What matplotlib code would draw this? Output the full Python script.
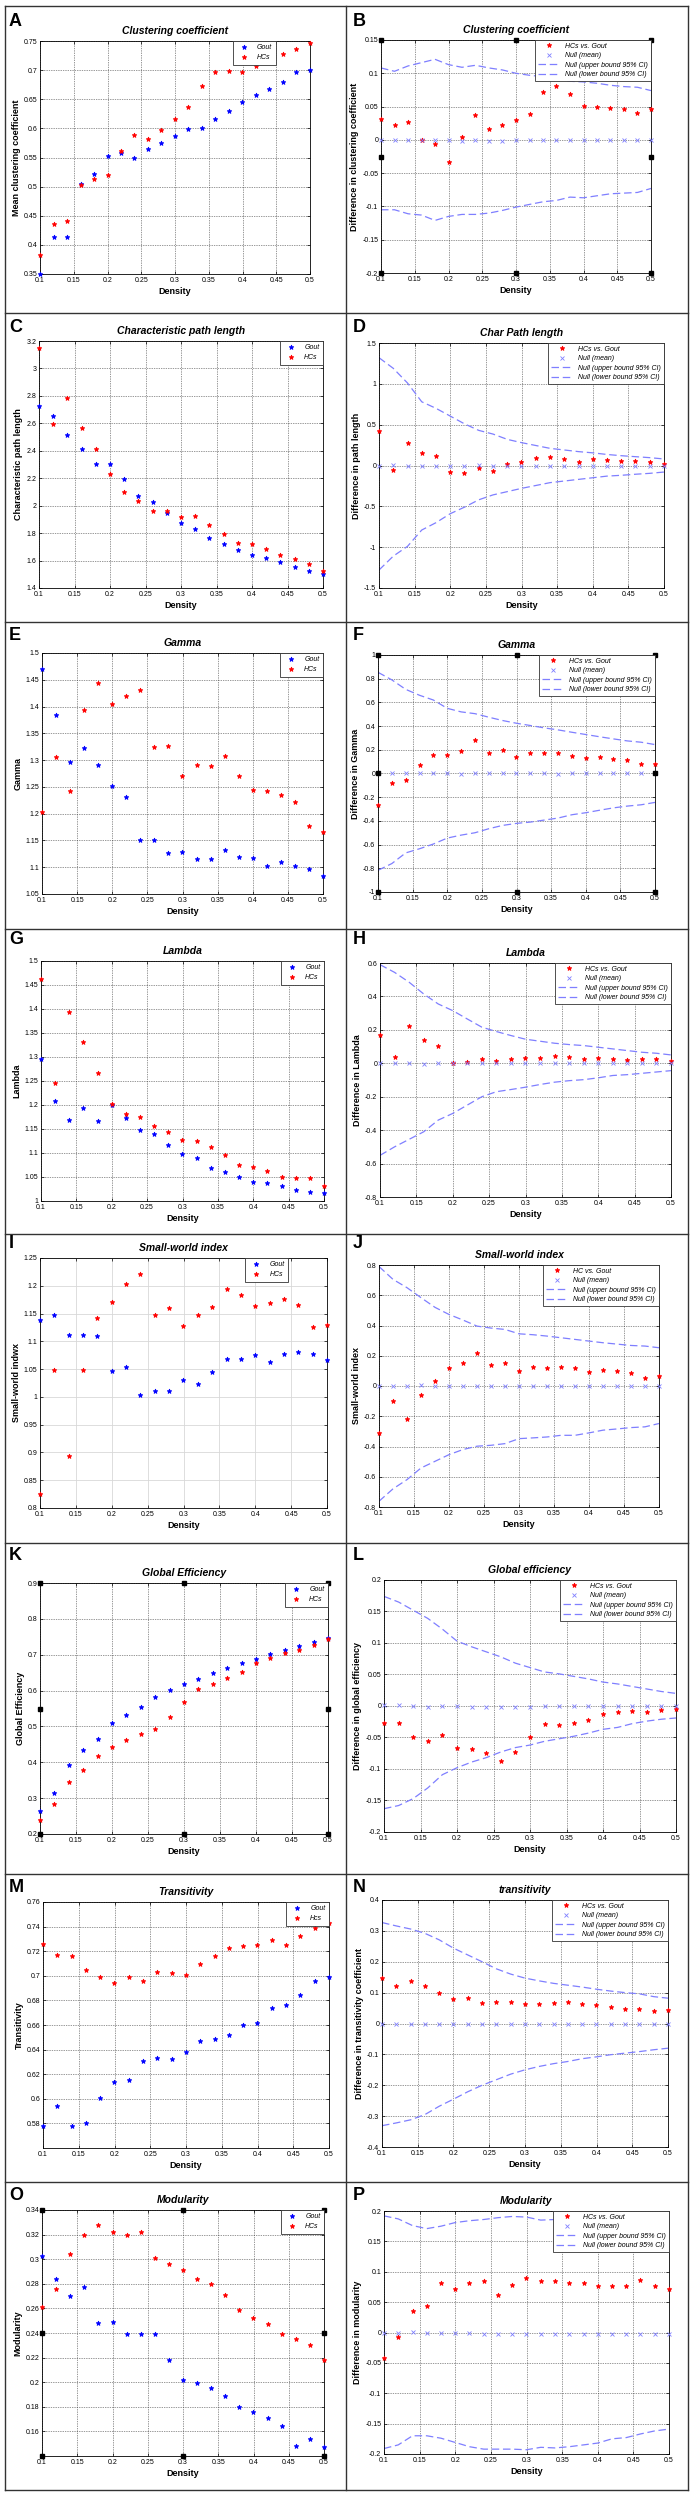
import matplotlib.pyplot as plt
from matplotlib.lines import Line2D
from matplotlib.ticker import FuncFormatter
import numpy as np

plt.rcParams['font.family'] = ['Liberation Sans', 'DejaVu Sans']

density = [0.10, 0.12, 0.14, 0.16, 0.18, 0.20, 0.22, 0.24, 0.26, 0.28, 0.30,
           0.32, 0.34, 0.36, 0.38, 0.40, 0.42, 0.44, 0.46, 0.48, 0.50]

# A / B  clustering coefficient
cc_gout = [0.350, 0.413, 0.414, 0.505, 0.521, 0.552, 0.557, 0.549, 0.565, 0.575, 0.587,
           0.599, 0.601, 0.616, 0.629, 0.646, 0.657, 0.667, 0.680, 0.696, 0.701]
cc_hcs = [0.382, 0.435, 0.441, 0.503, 0.513, 0.520, 0.561, 0.588, 0.581, 0.597, 0.616,
          0.637, 0.673, 0.697, 0.699, 0.697, 0.707, 0.714, 0.728, 0.737, 0.747]
cc_diff = [0.031, 0.022, 0.027, 0.000, -0.006, -0.033, 0.005, 0.037, 0.016, 0.022, 0.030,
           0.039, 0.072, 0.081, 0.069, 0.051, 0.049, 0.048, 0.047, 0.040, 0.046]
cc_null = [0.000, 0.000, 0.000, 0.000, 0.000, 0.000, -0.001, 0.000, -0.001, -0.002, 0.000,
           0.000, 0.000, 0.000, 0.000, 0.000, 0.000, 0.000, 0.000, 0.000, 0.000]
cc_upper = [0.108, 0.103, 0.111, 0.116, 0.121, 0.113, 0.109, 0.112, 0.108, 0.105, 0.100,
            0.097, 0.095, 0.091, 0.088, 0.087, 0.085, 0.082, 0.080, 0.079, 0.074]
cc_lower = [-0.105, -0.105, -0.111, -0.113, -0.121, -0.115, -0.112, -0.112, -0.110, -0.106, -0.101,
            -0.097, -0.093, -0.091, -0.086, -0.087, -0.084, -0.081, -0.080, -0.079, -0.073]

# C / D  characteristic path length
cpl_gout = [2.725, 2.650, 2.512, 2.413, 2.301, 2.306, 2.192, 2.069, 2.025, 1.943, 1.875,
            1.831, 1.761, 1.720, 1.679, 1.640, 1.616, 1.587, 1.553, 1.524, 1.502]
cpl_hcs = [3.152, 2.592, 2.788, 2.568, 2.413, 2.231, 2.103, 2.032, 1.960, 1.960, 1.918,
           1.926, 1.860, 1.797, 1.725, 1.720, 1.681, 1.637, 1.613, 1.572, 1.524]
cpl_diff = [0.425, -0.060, 0.273, 0.149, 0.116, -0.080, -0.092, -0.035, -0.067, 0.014, 0.043,
            0.096, 0.100, 0.075, 0.043, 0.075, 0.063, 0.051, 0.059, 0.043, 0.018]
cpl_null = [0.000, 0.010, 0.000, -0.010, 0.000, 0.000, 0.000, 0.010, 0.000, 0.000, 0.000,
            0.000, 0.000, 0.000, 0.000, 0.000, 0.000, 0.000, 0.000, 0.000, 0.000]
cpl_upper = [1.32, 1.19, 1.01, 0.78, 0.70, 0.605, 0.51, 0.43, 0.385, 0.32, 0.28,
             0.245, 0.21, 0.19, 0.17, 0.155, 0.135, 0.12, 0.108, 0.096, 0.08]
cpl_lower = [-1.28, -1.11, -0.99, -0.79, -0.70, -0.59, -0.51, -0.42, -0.36, -0.32, -0.28,
             -0.245, -0.21, -0.19, -0.17, -0.15, -0.13, -0.12, -0.107, -0.096, -0.08]

# E / F  gamma
gam_gout = [1.470, 1.384, 1.297, 1.323, 1.291, 1.252, 1.232, 1.150, 1.150, 1.126, 1.128,
            1.115, 1.115, 1.132, 1.120, 1.117, 1.102, 1.110, 1.103, 1.097, 1.084]
gam_hcs = [1.204, 1.306, 1.242, 1.394, 1.444, 1.405, 1.419, 1.430, 1.324, 1.326, 1.271,
           1.291, 1.289, 1.307, 1.270, 1.245, 1.242, 1.234, 1.221, 1.177, 1.165]
gam_diff = [-0.267, -0.076, -0.056, 0.070, 0.152, 0.152, 0.188, 0.281, 0.174, 0.199, 0.140,
            0.174, 0.174, 0.174, 0.149, 0.129, 0.140, 0.126, 0.118, 0.081, 0.081]
gam_null = [0.000, 0.005, 0.000, 0.000, 0.000, 0.000, -0.005, 0.000, 0.000, 0.000, 0.000,
            0.000, 0.000, -0.005, 0.000, 0.000, 0.000, 0.000, 0.000, 0.000, 0.000]
gam_upper = [0.854, 0.79, 0.71, 0.66, 0.62, 0.55, 0.52, 0.505, 0.475, 0.447, 0.424,
             0.405, 0.385, 0.368, 0.348, 0.329, 0.31, 0.292, 0.275, 0.264, 0.244]
gam_lower = [-0.817, -0.76, -0.67, -0.635, -0.595, -0.545, -0.52, -0.50, -0.466, -0.438, -0.421,
             -0.41, -0.393, -0.376, -0.348, -0.331, -0.31, -0.29, -0.275, -0.264, -0.244]

# G / H  lambda
lam_gout = [1.295, 1.208, 1.169, 1.193, 1.167, 1.199, 1.172, 1.147, 1.140, 1.116, 1.097,
            1.090, 1.069, 1.060, 1.049, 1.040, 1.038, 1.031, 1.023, 1.019, 1.017]
lam_hcs = [1.463, 1.246, 1.393, 1.332, 1.267, 1.203, 1.181, 1.174, 1.156, 1.144, 1.128,
           1.126, 1.112, 1.096, 1.074, 1.070, 1.063, 1.049, 1.047, 1.047, 1.031]
lam_diff = [0.170, 0.038, 0.224, 0.140, 0.102, 0.002, 0.007, 0.028, 0.016, 0.028, 0.032,
            0.034, 0.044, 0.038, 0.026, 0.032, 0.024, 0.020, 0.026, 0.028, 0.016]
lam_null = [0.000, 0.000, 0.000, -0.005, 0.000, 0.000, 0.000, 0.000, 0.000, 0.000, 0.000,
            0.000, 0.000, 0.000, 0.000, 0.000, 0.000, 0.000, 0.000, 0.000, 0.000]
lam_upper = [0.59, 0.544, 0.485, 0.415, 0.355, 0.315, 0.265, 0.216, 0.19, 0.166, 0.144,
             0.132, 0.12, 0.112, 0.106, 0.096, 0.086, 0.076, 0.066, 0.06, 0.05]
lam_lower = [-0.551, -0.50, -0.455, -0.41, -0.34, -0.30, -0.25, -0.20, -0.17, -0.157, -0.143,
             -0.127, -0.113, -0.104, -0.098, -0.087, -0.073, -0.068, -0.06, -0.052, -0.044]

# I / J  small-world index
sw_gout = [1.138, 1.147, 1.111, 1.111, 1.109, 1.046, 1.053, 1.003, 1.011, 1.011, 1.030,
           1.023, 1.044, 1.069, 1.069, 1.076, 1.063, 1.078, 1.080, 1.077, 1.067]
sw_hcs = [0.825, 1.049, 0.893, 1.048, 1.142, 1.170, 1.204, 1.221, 1.147, 1.160, 1.128,
          1.148, 1.161, 1.194, 1.183, 1.164, 1.169, 1.177, 1.166, 1.126, 1.130]
sw_diff = [-0.314, -0.096, -0.215, -0.061, 0.036, 0.122, 0.151, 0.220, 0.138, 0.153, 0.100,
           0.127, 0.116, 0.127, 0.116, 0.092, 0.105, 0.100, 0.087, 0.050, 0.065]
sw_null = [0.000, 0.000, 0.000, 0.008, 0.000, 0.000, 0.000, 0.000, 0.000, 0.000, 0.000,
           0.000, 0.000, 0.000, 0.000, 0.000, 0.000, 0.000, 0.000, 0.000, 0.000]
sw_upper = [0.79, 0.705, 0.65, 0.584, 0.52, 0.473, 0.436, 0.396, 0.383, 0.374, 0.345,
            0.339, 0.330, 0.319, 0.308, 0.297, 0.286, 0.277, 0.268, 0.264, 0.253]
sw_lower = [-0.762, -0.68, -0.619, -0.542, -0.498, -0.454, -0.42, -0.398, -0.392, -0.381, -0.348,
            -0.343, -0.337, -0.326, -0.326, -0.31, -0.292, -0.284, -0.275, -0.27, -0.248]

# K / L  global efficiency
ge_gout = [0.265, 0.313, 0.392, 0.433, 0.465, 0.509, 0.533, 0.553, 0.581, 0.601, 0.617,
           0.631, 0.649, 0.663, 0.676, 0.689, 0.701, 0.712, 0.724, 0.735, 0.746]
ge_hcs = [0.238, 0.285, 0.344, 0.378, 0.418, 0.442, 0.463, 0.479, 0.494, 0.527, 0.567,
          0.603, 0.618, 0.634, 0.653, 0.678, 0.690, 0.704, 0.714, 0.727, 0.743]
ge_diff = [-0.027, -0.027, -0.049, -0.055, -0.046, -0.067, -0.068, -0.075, -0.087, -0.073, -0.050,
           -0.028, -0.030, -0.027, -0.023, -0.012, -0.010, -0.008, -0.010, -0.007, -0.004]
ge_null = [0.002, 0.002, 0.000, -0.001, 0.000, 0.000, -0.001, -0.001, -0.001, -0.001, -0.001,
           0.000, 0.000, 0.000, 0.000, 0.000, 0.000, 0.000, 0.000, 0.000, 0.000]
ge_upper = [0.174, 0.165, 0.152, 0.139, 0.122, 0.103, 0.094, 0.086, 0.078, 0.068, 0.061,
            0.054, 0.051, 0.047, 0.043, 0.038, 0.035, 0.031, 0.027, 0.023, 0.020]
ge_lower = [-0.163, -0.158, -0.147, -0.130, -0.109, -0.098, -0.089, -0.082, -0.073, -0.066, -0.062,
            -0.056, -0.052, -0.048, -0.043, -0.037, -0.034, -0.028, -0.024, -0.021, -0.019]

# M / N  transitivity
tr_gout = [0.578, 0.594, 0.578, 0.580, 0.601, 0.614, 0.615, 0.631, 0.633, 0.632, 0.638,
           0.647, 0.649, 0.652, 0.660, 0.662, 0.674, 0.676, 0.684, 0.696, 0.699]
tr_hcs = [0.726, 0.717, 0.716, 0.705, 0.699, 0.694, 0.699, 0.696, 0.703, 0.702, 0.701,
          0.710, 0.716, 0.723, 0.724, 0.725, 0.729, 0.725, 0.732, 0.739, 0.743]
tr_diff = [0.147, 0.123, 0.138, 0.123, 0.098, 0.080, 0.084, 0.065, 0.069, 0.069, 0.064,
           0.063, 0.066, 0.071, 0.063, 0.061, 0.055, 0.048, 0.048, 0.041, 0.043]
tr_null = [0.000, -0.003, -0.003, -0.003, 0.000, 0.000, 0.000, 0.000, 0.000, 0.000, 0.000,
           0.000, 0.000, 0.000, 0.000, 0.000, 0.000, 0.000, 0.000, 0.000, 0.000]
tr_upper = [0.327, 0.316, 0.306, 0.292, 0.271, 0.244, 0.222, 0.200, 0.177, 0.160, 0.147,
            0.138, 0.130, 0.124, 0.118, 0.111, 0.105, 0.100, 0.096, 0.087, 0.082]
tr_lower = [-0.331, -0.322, -0.312, -0.295, -0.268, -0.245, -0.221, -0.200, -0.182, -0.164, -0.150,
            -0.139, -0.130, -0.123, -0.114, -0.108, -0.101, -0.096, -0.091, -0.085, -0.080]

# O / P  modularity
mod_gout = [0.303, 0.284, 0.270, 0.277, 0.248, 0.249, 0.239, 0.239, 0.239, 0.218, 0.202,
            0.199, 0.195, 0.189, 0.180, 0.176, 0.171, 0.164, 0.148, 0.154, 0.147]
mod_hcs = [0.261, 0.276, 0.304, 0.320, 0.328, 0.322, 0.320, 0.322, 0.301, 0.296, 0.291,
           0.284, 0.280, 0.271, 0.259, 0.252, 0.247, 0.239, 0.235, 0.230, 0.218]
mod_diff = [-0.042, -0.008, 0.035, 0.043, 0.081, 0.072, 0.082, 0.084, 0.062, 0.078, 0.089,
            0.084, 0.085, 0.082, 0.081, 0.077, 0.076, 0.076, 0.087, 0.077, 0.071]
mod_null = [0.000, 0.000, 0.001, 0.000, -0.001, -0.001, -0.001, -0.002, -0.002, -0.002, -0.002,
            -0.002, -0.002, -0.002, -0.002, -0.002, -0.002, -0.002, -0.002, -0.002, -0.002]
mod_upper = [0.192, 0.187, 0.176, 0.171, 0.175, 0.181, 0.184, 0.186, 0.189, 0.191, 0.190,
             0.185, 0.186, 0.186, 0.185, 0.184, 0.183, 0.183, 0.182, 0.181, 0.180]
mod_lower = [-0.191, -0.185, -0.170, -0.170, -0.174, -0.181, -0.188, -0.192, -0.192, -0.192, -0.193,
             -0.189, -0.190, -0.188, -0.185, -0.182, -0.175, -0.173, -0.167, -0.162, -0.159]

W, H = 693, 2498

# left-column panels: (letter, title, ylabel, gout, hcs, ymin, ymax, ystep, first tick, hcs label, legend x anchor, handles)
left_panels = [
    ('A', 'Clustering coefficient', 'Mean clustering coefficient', cc_gout, cc_hcs, 0.35, 0.75, 0.05, 0.35, 'HCs', 0.873, False),
    ('C', 'Characteristic path length', 'Characteristic path length', cpl_gout, cpl_hcs, 1.4, 3.2, 0.2, 1.4, 'HCs', 1.0, False),
    ('E', 'Gamma', 'Gamma', gam_gout, gam_hcs, 1.05, 1.5, 0.05, 1.05, 'HCs', 1.0, False),
    ('G', 'Lambda', 'Lambda', lam_gout, lam_hcs, 1.0, 1.5, 0.05, 1.0, 'HCs', 1.0, False),
    ('I', 'Small-world index', 'Small-world indwx', sw_gout, sw_hcs, 0.8, 1.25, 0.05, 0.8, 'HCs', 0.865, False),
    ('K', 'Global Efficiency', 'Global Efficiency', ge_gout, ge_hcs, 0.2, 0.9, 0.1, 0.2, 'HCs', 1.0, True),
    ('M', 'Transitivity', 'Transitivity', tr_gout, tr_hcs, 0.56, 0.76, 0.02, 0.58, 'Hcs', 1.0, False),
    ('O', 'Modularity', 'Modularity', mod_gout, mod_hcs, 0.14, 0.34, 0.02, 0.16, 'HCs', 1.0, True),
]
right_panels = [
    ('B', 'Clustering coefficient', 'Difference in clustering coefficient', cc_diff, cc_null, cc_upper, cc_lower, -0.2, 0.15, 0.05, 'HCs vs. Gout', True),
    ('D', 'Char Path length', 'Difference in path length', cpl_diff, cpl_null, cpl_upper, cpl_lower, -1.5, 1.5, 0.5, 'HCs vs. Gout', False),
    ('F', 'Gamma', 'Difference in Gamma', gam_diff, gam_null, gam_upper, gam_lower, -1.0, 1.0, 0.2, 'HCs vs. Gout', True),
    ('H', 'Lambda', 'Difference in Lambda', lam_diff, lam_null, lam_upper, lam_lower, -0.8, 0.6, 0.2, 'HCs vs. Gout', False),
    ('J', 'Small-world index', 'Small-world index', sw_diff, sw_null, sw_upper, sw_lower, -0.8, 0.8, 0.2, 'HC vs. Gout', False),
    ('L', 'Global efficiency', 'Difference in global efficiency', ge_diff, ge_null, ge_upper, ge_lower, -0.2, 0.2, 0.05, 'HCs vs. Gout', False),
    ('N', 'transitivity', 'Difference in transitivity coefficient', tr_diff, tr_null, tr_upper, tr_lower, -0.4, 0.4, 0.1, 'HCs vs. Gout', False),
    ('P', 'Modularity', 'Difference in modularity', mod_diff, mod_null, mod_upper, mod_lower, -0.2, 0.2, 0.05, 'HCs vs. Gout', False),
]

# axes boxes in pixels (left, top, right, bottom)
left_boxes = [(40, 41, 310, 274), (39, 341, 323, 588), (42, 653, 323, 894), (41, 961, 324, 1201),
              (40, 1258, 327, 1508), (40, 1583, 328, 1834), (43, 1902, 329, 2148), (42, 2210, 324, 2456)]
right_boxes = [(381, 40, 651, 273), (379, 343, 664, 588), (378, 655, 655, 892), (380, 963, 671, 1197),
               (379, 1265, 659, 1507), (384, 1580, 676, 1832), (382, 1900, 668, 2147), (384, 2211, 669, 2454)]
letter_y = [22, 327, 635, 940, 1244, 1555, 1887, 2196]
row_lines = [6, 313, 622, 929, 1234, 1543, 1874, 2182, 2490]

NULL_C = '#7f7fff'


def tick_fmt(v, pos):
    if abs(v) < 1e-9:
        return '0'
    return '%g' % round(v, 4)


def make_axes(box):
    l, t, r, b = box
    return fig.add_axes([l / W, 1 - b / H, (r - l) / W, (b - t) / H])


def style_axes(ax, title, ylabel, ymin, ymax, ystep, first, light_grid=False):
    ax.set_xlim(0.1, 0.5)
    ax.set_ylim(ymin, ymax)
    ax.set_xticks(np.arange(0.1, 0.5001, 0.05))
    ax.set_yticks(np.arange(first, ymax + ystep / 2, ystep))
    ax.xaxis.set_major_formatter(FuncFormatter(tick_fmt))
    ax.yaxis.set_major_formatter(FuncFormatter(tick_fmt))
    ax.tick_params(direction='in', length=2, width=0.5, labelsize=5, pad=2,
                   top=True, right=True)
    if light_grid:
        ax.grid(True, color='#d8d8d8', linewidth=0.6, linestyle='-')
    else:
        ax.grid(True, color='#333333', linewidth=0.5, linestyle=(0, (1, 1.5)))
    ax.set_axisbelow(True)
    for s in ax.spines.values():
        s.set_linewidth(0.6)
    ax.set_title(title, fontsize=7.5, fontweight='bold', fontstyle='italic', pad=5)
    ax.set_xlabel('Density', fontsize=6.5, fontweight='bold', labelpad=2)
    ax.set_ylabel(ylabel, fontsize=6.5, fontweight='bold', labelpad=2)


def add_handles(ax):
    ax.plot([0, 0.5, 1, 0, 1, 0, 0.5, 1], [1, 1, 1, 0.5, 0.5, 0, 0, 0], 's',
            transform=ax.transAxes, clip_on=False, ms=2.5, color='black', zorder=5)


fig = plt.figure(figsize=(W / 100, H / 100), dpi=100)

# panel frame lines
for y in row_lines:
    fig.add_artist(Line2D([5 / W, 688 / W], [1 - y / H, 1 - y / H], color='#333333', lw=1.0))
for x in (5, 346, 688):
    fig.add_artist(Line2D([x / W, x / W], [1 - 6 / H, 1 - 2490 / H], color='#333333', lw=1.0))

for i, p in enumerate(left_panels):
    letter, title, ylabel, gout, hcs, ymin, ymax, ystep, first, hlab, anchor, handles = p
    ax = make_axes(left_boxes[i])
    style_axes(ax, title, ylabel, ymin, ymax, ystep, first, light_grid=(letter == 'I'))
    ax.plot(density, gout, '*', color='blue', ms=3.5, mew=0.6, label='Gout', clip_on=False, zorder=3)
    ax.plot(density, hcs, '*', color='red', ms=3.5, mew=0.6, label=hlab, clip_on=False, zorder=3)
    leg = ax.legend(loc='upper right', bbox_to_anchor=(anchor, 1.0), borderaxespad=0,
                    prop={'size': 5, 'style': 'italic'}, fancybox=False, edgecolor='#333333',
                    framealpha=1, handlelength=2.2, borderpad=0.5, labelspacing=0.4)
    leg.get_frame().set_linewidth(0.6)
    if handles:
        add_handles(ax)
    fig.text(9 / W, 1 - letter_y[i] / H, letter, fontsize=13, fontweight='bold', va='center', ha='left')

for i, p in enumerate(right_panels):
    letter, title, ylabel, diff, null, upper, lower, ymin, ymax, ystep, dlab, handles = p
    ax = make_axes(right_boxes[i])
    style_axes(ax, title, ylabel, ymin, ymax, ystep, ymin)
    ax.plot(density, diff, '*', color='red', ms=3.5, mew=0.6, label=dlab, clip_on=False, zorder=3)
    ax.plot(density, null, 'x', color=NULL_C, ms=2.2, mew=0.6, label='Null (mean)', clip_on=False, zorder=3)
    ax.plot(density, upper, color=NULL_C, lw=0.9, dashes=(6, 3), label='Null (upper bound 95% CI)')
    ax.plot(density, lower, color=NULL_C, lw=0.9, dashes=(6, 3), label='Null (lower bound 95% CI)')
    leg = ax.legend(loc='upper right', borderaxespad=0, prop={'size': 5, 'style': 'italic'},
                    fancybox=False, edgecolor='#333333', framealpha=1, handlelength=3.2,
                    borderpad=0.4, labelspacing=0.35)
    leg.get_frame().set_linewidth(0.6)
    if handles:
        add_handles(ax)
    fig.text(353 / W, 1 - letter_y[i] / H, letter, fontsize=13, fontweight='bold', va='center', ha='left')

fig.savefig('out.png', dpi=100, facecolor='white')
